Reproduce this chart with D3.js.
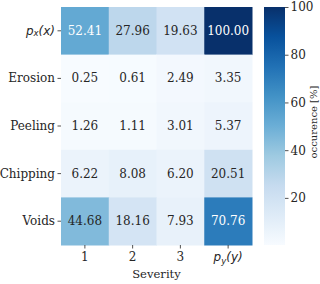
<!DOCTYPE html>
<html>
<head>
<meta charset="utf-8">
<script src="https://cdn.jsdelivr.net/npm/d3@7"></script>
<style>
  body { margin: 0; background: #fff; }
  text { font-family: "DejaVu Serif", serif; fill: #262626; }
  .math { font-family: "DejaVu Sans", sans-serif; font-style: italic; }
</style>
</head>
<body>
<div class="chart"></div>
<script>
var width = 320, height = 284;
var rows = ["px", "Erosion", "Peeling", "Chipping", "Voids"];
var cols = ["1", "2", "3", "py"];
var values = [
  [52.41, 27.96, 19.63, 100.00],
  [0.25, 0.61, 2.49, 3.35],
  [1.26, 1.11, 3.01, 5.37],
  [6.22, 8.08, 6.20, 20.51],
  [44.68, 18.16, 7.93, 70.76]
];
var cbarTicks = [20, 40, 60, 80, 100];

var plot = { left: 61, right: 252, top: 7, bottom: 245 };
var cbar = { left: 264, right: 285 };

var svg = d3.select(".chart").append("svg")
  .attr("width", width).attr("height", height);

var x_scale = d3.scaleBand().domain(cols).range([plot.left, plot.right]);
var y_scale = d3.scaleBand().domain(rows).range([plot.top, plot.bottom]);

var flat = [].concat.apply([], values);
var vmin = d3.min(flat), vmax = d3.max(flat);
var blues = ["#f7fbff", "#deebf7", "#c6dbef", "#9ecae1", "#6baed6", "#4292c6", "#2171b5", "#08519c", "#08306b"];
var color_scale = d3.scaleLinear()
  .domain(d3.range(9).map(function(i){ return vmin + (vmax - vmin) * i / 8; }))
  .range(blues)
  .interpolate(d3.interpolateRgb);

function lum(c) {
  var rgb = d3.rgb(c);
  var f = function(v){ v = v / 255; return v <= 0.03928 ? v / 12.92 : Math.pow((v + 0.055) / 1.055, 2.4); };
  return 0.2126 * f(rgb.r) + 0.7152 * f(rgb.g) + 0.0722 * f(rgb.b);
}

var cells = [];
rows.forEach(function(r, i){
  cols.forEach(function(c, j){ cells.push({ r: r, c: c, v: values[i][j] }); });
});

svg.append("g").selectAll("rect").data(cells).enter().append("rect")
  .attr("x", function(d){ return x_scale(d.c); })
  .attr("y", function(d){ return y_scale(d.r); })
  .attr("width", x_scale.bandwidth() + 0.5)
  .attr("height", y_scale.bandwidth() + 0.5)
  .attr("fill", function(d){ return color_scale(d.v); });

svg.append("g").selectAll("text").data(cells).enter().append("text")
  .attr("x", function(d){ return x_scale(d.c) + x_scale.bandwidth() / 2; })
  .attr("y", function(d){ return y_scale(d.r) + y_scale.bandwidth() / 2; })
  .attr("text-anchor", "middle")
  .attr("dominant-baseline", "central")
  .style("font-size", "12px")
  .style("fill", function(d){ return lum(color_scale(d.v)) > 0.408 ? "#262626" : "#ffffff"; })
  .text(function(d){ return d.v.toFixed(2); });

// y axis
var yAxis = svg.append("g")
  .attr("transform", "translate(" + plot.left + ",0)")
  .call(d3.axisLeft(y_scale).tickSize(3.5).tickPadding(2).tickFormat(""));
yAxis.select(".domain").remove();
yAxis.selectAll("line").attr("stroke", "#262626").attr("stroke-width", 0.8);
rows.forEach(function(r){
  var t = svg.append("text")
    .attr("x", plot.left - 6)
    .attr("y", y_scale(r) + y_scale.bandwidth() / 2)
    .attr("text-anchor", "end")
    .attr("dominant-baseline", "central")
    .style("font-size", "12px");
  if (r === "px") {
    t.attr("class", "math");
    t.append("tspan").text("p");
    t.append("tspan").attr("dy", 2.5).style("font-size", "8.5px").text("x");
    t.append("tspan").attr("dy", -2.5).text("(x)");
  } else {
    t.text(r);
  }
});

// x axis
var xAxis = svg.append("g")
  .attr("transform", "translate(0," + plot.bottom + ")")
  .call(d3.axisBottom(x_scale).tickSize(3.5).tickFormat(""));
xAxis.select(".domain").remove();
xAxis.selectAll("line").attr("stroke", "#262626").attr("stroke-width", 0.8);
cols.forEach(function(c){
  var t = svg.append("text")
    .attr("x", x_scale(c) + x_scale.bandwidth() / 2)
    .attr("y", plot.bottom + 16)
    .attr("text-anchor", "middle")
    .style("font-size", "12px");
  if (c === "py") {
    t.attr("class", "math");
    t.append("tspan").text("p");
    t.append("tspan").attr("dy", 2.5).style("font-size", "8.5px").text("y");
    t.append("tspan").attr("dy", -2.5).text("(y)");
  } else {
    t.text(c);
  }
});
svg.append("text")
  .attr("x", (plot.left + plot.right) / 2)
  .attr("y", 277.5)
  .attr("text-anchor", "middle")
  .style("font-size", "11.6px")
  .text("Severity");

// colorbar
var defs = svg.append("defs");
var grad = defs.append("linearGradient").attr("id", "cbgrad")
  .attr("x1", 0).attr("y1", 1).attr("x2", 0).attr("y2", 0);
blues.forEach(function(b, i){
  grad.append("stop").attr("offset", (i / 8 * 100) + "%").attr("stop-color", b);
});
svg.append("rect")
  .attr("x", cbar.left).attr("y", plot.top)
  .attr("width", cbar.right - cbar.left)
  .attr("height", plot.bottom - plot.top)
  .attr("fill", "url(#cbgrad)");

var c_scale = d3.scaleLinear().domain([vmin, vmax]).range([plot.bottom, plot.top]);
var cAxis = svg.append("g")
  .attr("transform", "translate(" + cbar.right + ",0)")
  .call(d3.axisRight(c_scale).tickValues(cbarTicks).tickSize(3.5).tickPadding(2));
cAxis.select(".domain").remove();
cAxis.selectAll("line").attr("stroke", "#262626").attr("stroke-width", 0.8);
cAxis.selectAll("text")
  .style("font-family", "DejaVu Serif, serif")
  .style("font-size", "12px")
  .attr("fill", "#262626");

svg.append("text")
  .attr("transform", "translate(313,122) rotate(-90)")
  .attr("text-anchor", "middle")
  .attr("dominant-baseline", "central")
  .style("font-size", "10px")
  .text("occurence [%]");
</script>
</body>
</html>
